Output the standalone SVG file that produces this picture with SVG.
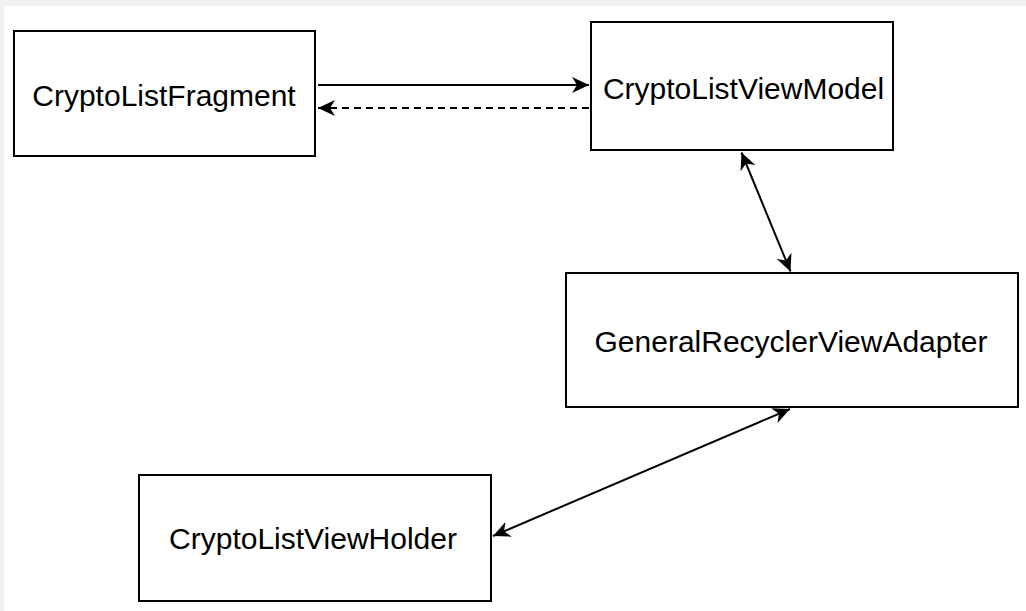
<svg xmlns="http://www.w3.org/2000/svg" width="1026" height="611" viewBox="0 0 1026 611">
  <style>
    .box { fill: #ffffff; stroke: #000000; stroke-width: 2; }
    .lbl { font-family: "Liberation Sans", Arial, Helvetica, sans-serif; font-size: 30px; fill: #000000; text-anchor: middle; }
    .edge { fill: none; stroke: #000000; stroke-width: 2; }
    .dash { stroke-dasharray: 7 5; }
  </style>
  <defs>
    <marker id="arr" viewBox="0 0 17 16" refX="17" refY="8" markerWidth="17" markerHeight="16" markerUnits="userSpaceOnUse" orient="auto-start-reverse">
      <path d="M0,0 L17,8 L0,16 L5,8 Z" fill="#000000"/>
    </marker>
  </defs>
  <rect x="0" y="0" width="1026" height="611" fill="#f1f1f1"/>
  <rect x="4" y="6" width="1022" height="605" fill="#ffffff"/>

  <g id="connectors">
    <line class="edge" x1="318" y1="85" x2="589" y2="85" marker-end="url(#arr)"/>
    <line class="edge dash" x1="589" y1="108" x2="318" y2="108" marker-end="url(#arr)"/>
    <line class="edge" x1="741.5" y1="152.5" x2="790.5" y2="271.5" marker-start="url(#arr)" marker-end="url(#arr)"/>
    <line class="edge" x1="790" y1="409" x2="493" y2="536" marker-start="url(#arr)" marker-end="url(#arr)"/>
  </g>

  <g id="node-fragment">
    <rect class="box" x="14" y="31" width="301" height="125"/>
    <text class="lbl" x="164" y="106">CryptoListFragment</text>
  </g>
  <g id="node-viewmodel">
    <rect class="box" x="591" y="22" width="302" height="128"/>
    <text class="lbl" x="743.5" y="98.5">CryptoListViewModel</text>
  </g>
  <g id="node-adapter">
    <rect class="box" x="566" y="273" width="452" height="134"/>
    <text class="lbl" x="791" y="352">GeneralRecyclerViewAdapter</text>
  </g>
  <g id="node-viewholder">
    <rect class="box" x="139" y="475" width="352" height="126"/>
    <text class="lbl" x="313" y="549">CryptoListViewHolder</text>
  </g>
</svg>
